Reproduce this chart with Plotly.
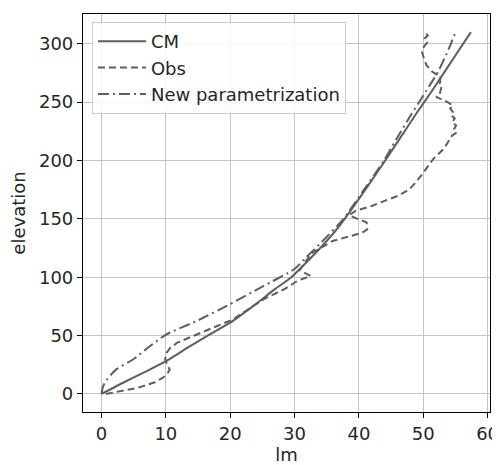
import plotly.graph_objects as go

# ---- data ----
cm_elev = [0, 10, 20, 28, 40, 50, 61, 75, 90, 100, 113, 125, 140, 150, 175, 200, 220, 240, 260, 280, 295, 310]
cm_lm = [0, 3.5, 7.2, 10.0, 13.5, 16.5, 20.0, 23.5, 27.0, 29.5, 31.9, 34.0, 36.4, 37.8, 41.0, 44.1, 46.5, 48.9, 51.4, 53.8, 55.6, 57.4]

new_elev = [0, 6.5, 12, 21, 29.5, 40, 51, 63, 77, 92, 107, 117, 130, 150, 175, 200, 220, 240, 260, 276, 296, 311]
new_lm = [0, 0.25, 0.8, 2.3, 4.9, 7.3, 10.1, 15.0, 20.0, 25.0, 30.0, 31.8, 34.2, 37.6, 40.8, 43.9, 46.0, 48.2, 50.5, 52.3, 54.0, 55.1]

obs_elev = [0, 2, 5, 10, 14, 18, 21, 25, 30, 35, 39, 44, 48, 55, 64, 74, 82, 90, 97, 101, 106,
            112, 121, 131, 136, 138, 141, 147, 150, 153, 157, 161, 164.5, 170, 175, 181, 188,
            201.5, 210, 217, 221.5, 224, 227, 230, 233, 236, 239, 241.6, 244.5, 247, 250, 254.5,
            256, 260, 264.5, 266, 271.7, 276, 281.7, 287.5, 293, 297.5, 301, 304.6, 307, 310]
obs_lm = [0.7, 2.5, 5.5, 8.3, 9.6, 10.3, 10.6, 10.2, 9.9, 10.1, 10.6, 11.8, 13.5, 16.5, 20.5, 23.2, 25.5, 28.5, 30.5, 32.5, 30.8,
          31.5, 32.8, 35.9, 39.0, 40.5, 41.3, 41.2, 39.8, 38.5, 39.5, 42.0, 43.6, 46.2, 47.8, 48.8, 49.8,
          51.6, 53.2, 54.0, 54.5, 55.2, 54.8, 55.1, 54.5, 54.9, 54.3, 54.6, 54.2, 54.6, 53.8, 52.0,
          52.5, 52.7, 52.9, 52.6, 52.7, 51.4, 50.5, 50.1, 49.8, 50.1, 50.6, 50.2, 50.7, 50.3]

x_ticks = [0, 10, 20, 30, 40, 50, 60]
y_ticks = [0, 50, 100, 150, 200, 250, 300]

LINE = "#5e5e5e"
FONT = "DejaVu Sans"
TXT = "#262626"
FS = 18

fig = go.Figure()
fig.add_trace(go.Scatter(x=cm_lm, y=cm_elev, mode="lines", name="CM",
                         line=dict(color=LINE, width=2, shape="spline", smoothing=0.6)))
fig.add_trace(go.Scatter(x=obs_lm, y=obs_elev, mode="lines", name="Obs",
                         line=dict(color=LINE, width=2, dash="7px,4px")))
fig.add_trace(go.Scatter(x=new_lm, y=new_elev, mode="lines", name="New parametrization",
                         line=dict(color=LINE, width=2, dash="11px,4px,2px,4px", shape="spline", smoothing=0.6)))

axis_common = dict(
    showgrid=True, gridcolor="#c4c4c4", gridwidth=1.4,
    showline=True, linecolor="#000000", linewidth=1.2, mirror=True,
    ticks="outside", ticklen=5, tickcolor="#000000", tickwidth=1.2,
    zeroline=False, automargin=False,
    tickfont=dict(family=FONT, size=FS, color=TXT),
)

fig.update_xaxes(range=[-2.875, 60.375], tickvals=x_ticks,
                 title=dict(text="lm", font=dict(family=FONT, size=FS, color=TXT), standoff=8),
                 **axis_common)
fig.update_yaxes(range=[-15.5, 325.5], tickvals=y_ticks,
                 title=dict(text="elevation", font=dict(family=FONT, size=FS, color=TXT), standoff=13),
                 **axis_common)

# page body has an 8px margin, so the figure is sized/offset to compensate
fig.update_layout(
    width=492, height=457,
    margin=dict(l=75, r=10, t=6, b=53),
    plot_bgcolor="white", paper_bgcolor="white",
    font=dict(family=FONT, size=FS, color=TXT),
    showlegend=True,
    legend=dict(x=0.022, y=0.98, xanchor="left", yanchor="top",
                bgcolor="rgba(255,255,255,0.85)", bordercolor="#cccccc", borderwidth=1,
                font=dict(family=FONT, size=FS, color=TXT),
                tracegroupgap=0, itemwidth=48),
)

fig.write_html("out.html")
